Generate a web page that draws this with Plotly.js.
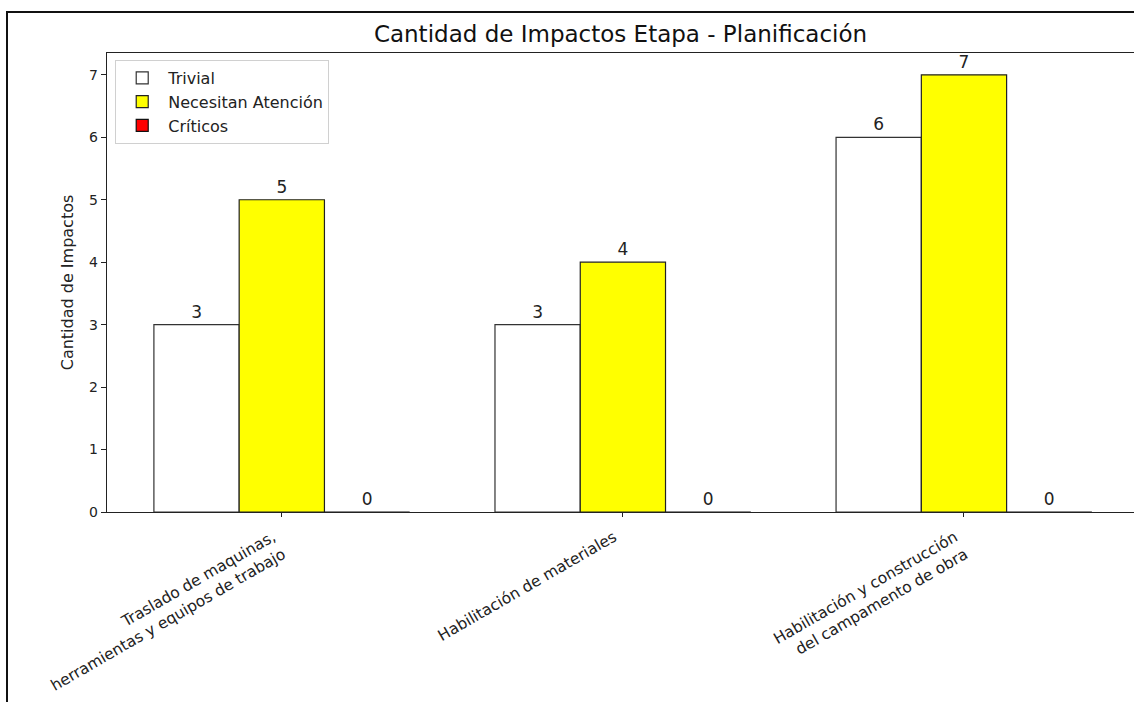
<!DOCTYPE html>
<html>
<head>
<meta charset="utf-8">
<script src="https://cdn.plot.ly/plotly-3.0.1.min.js"></script>
<style>
html, body { margin: 0; padding: 0; background: #fff; overflow: hidden; }
#wrap { position: relative; width: 1134px; height: 702px; }
#chart { width: 1134px; height: 702px; }
#frame { position: absolute; left: 6px; top: 11px; width: 1140px; height: 700px;
         border-left: 2px solid #111; border-top: 2px solid #111; pointer-events: none; }
</style>
</head>
<body>
<div id="wrap">
<div id="chart"></div>
<div id="frame"></div>
</div>
<script>
const categories = [
  "Traslado de maquinas,<br>herramientas y equipos de trabajo",
  "Habilitación de materiales",
  "Habilitación y construcción<br>del campamento de obra"
];
const seriesNames = ["Trivial", "Necesitan Atención", "Críticos"];
const trivial = [3, 3, 6];
const atencion = [5, 4, 7];
const criticos = [0, 0, 0];
const yTicks = [0, 1, 2, 3, 4, 5, 6, 7];

const fillColors = ["#ffffff", "#ffff00", "#ff0000"];
const lineColors = ["#333333", "#222222", "#111111"];
const seriesValues = [trivial, atencion, criticos];
const xIdx = categories.map((_, i) => i);

const traces = seriesValues.map((vals, k) => ({
  type: "bar",
  name: seriesNames[k],
  x: xIdx,
  y: vals,
  text: vals.map(String),
  textposition: "outside",
  cliponaxis: false,
  textfont: { family: "DejaVu Sans", size: 17, color: "#222" },
  marker: { color: fillColors[k], line: { color: lineColors[k], width: 1.2 } },
  hoverinfo: "x+y+name"
}));

const layout = {
  width: 1134,
  height: 702,
  paper_bgcolor: "#ffffff",
  plot_bgcolor: "#ffffff",
  font: { family: "DejaVu Sans", size: 14, color: "#222" },
  margin: { l: 107, r: 0, t: 53, b: 190 },
  title: {
    text: "Cantidad de Impactos Etapa - Planificación",
    font: { family: "DejaVu Sans", size: 23, color: "#111" },
    x: 0.5, xref: "paper", xanchor: "center",
    y: 1, yref: "container", yanchor: "top", pad: { t: 26 }
  },
  barmode: "group",
  bargap: 0.25,
  bargroupgap: 0,
  showlegend: true,
  legend: {
    x: 0.008, y: 0.985, xanchor: "left", yanchor: "top",
    bgcolor: "rgba(255,255,255,0.9)",
    bordercolor: "#d0d0d0", borderwidth: 1,
    font: { family: "DejaVu Sans", size: 16, color: "#222" },
    tracegroupgap: 0, itemwidth: 42
  },
  xaxis: {
    type: "linear",
    range: [-0.5125, 2.4985],
    tickmode: "array",
    tickvals: xIdx,
    ticktext: categories,
    tickangle: -30,
    ticklabelshift: -9,
    ticklabelstandoff: 5,
    ticks: "outside", ticklen: 4, tickcolor: "#222", tickwidth: 1,
    showline: true, linecolor: "#222", linewidth: 1.3, mirror: true,
    showgrid: false, zeroline: false,
    tickfont: { family: "DejaVu Sans", size: 15.5, color: "#222" }
  },
  yaxis: {
    range: [0, 7.35],
    tickmode: "array",
    tickvals: yTicks,
    ticktext: yTicks.map(String),
    ticks: "outside", ticklen: 5, tickcolor: "#222", tickwidth: 1,
    showline: true, linecolor: "#222", linewidth: 1.3,
    showgrid: false, zeroline: false,
    tickfont: { family: "DejaVu Sans", size: 14, color: "#222" },
    title: { text: "Cantidad de Impactos", font: { family: "DejaVu Sans", size: 16, color: "#222" }, standoff: 11 }
  }
};

Plotly.newPlot("chart", traces, layout, { displayModeBar: false, staticPlot: true });
</script>
</body>
</html>
